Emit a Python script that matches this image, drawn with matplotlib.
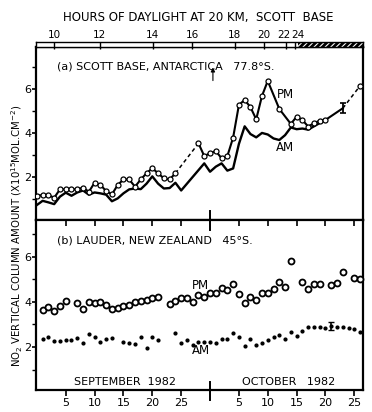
import matplotlib
matplotlib.use("Agg")
import matplotlib.pyplot as plt
from matplotlib.patches import Rectangle
from matplotlib.ticker import FixedLocator
import matplotlib.transforms as mtransforms

plt.rcParams['font.family'] = ['DejaVu Sans']
plt.rcParams['hatch.linewidth'] = 0.8

# ---------------- data (day index: Sep d -> d, Oct d -> 30+d) ----------------
# (a) Scott Base PM (open circles)
pm_a_days1 = list(range(0, 25))
pm_a_vals1 = [1.15, 1.18, 1.18, 1.06, 1.44, 1.44, 1.44, 1.44, 1.52, 1.33, 1.74, 1.65, 1.36,
              1.21, 1.64, 1.89, 1.89, 1.56, 1.89, 2.17, 2.40, 2.17, 1.94, 1.89, 2.17]
pm_a_days2 = [28, 29, 30, 31, 32, 33, 34, 35, 36, 37, 38, 39, 40, 42, 44, 45, 46, 47, 48, 49, 50]
pm_a_vals2 = [3.53, 2.95, 3.08, 3.18, 2.85, 2.95, 3.79, 5.27, 5.50, 5.17, 4.62, 5.68, 6.36,
              5.09, 4.41, 4.74, 4.59, 4.29, 4.44, 4.56, 4.59]
err_a_day = 53
err_a_val = 5.12
err_a_size = 0.23
pm_a_last_day = 56
pm_a_last_val = 6.14

# (a) Scott Base AM (line)
am_a_days = [0, 1, 2, 3, 4, 5, 6, 7, 8, 9, 10, 11, 12, 13, 14, 15, 16, 17, 18, 19, 20, 21, 22,
             23, 24, 25, 29, 30, 31, 32, 33, 34, 35, 36, 37, 38, 39, 40, 41, 42, 43, 44, 45,
             46, 47, 48, 49, 50]
am_a_vals = [0.73, 0.92, 0.85, 0.77, 1.11, 1.29, 1.15, 1.30, 1.39, 1.20, 1.30, 1.26, 1.20,
             0.90, 1.03, 1.26, 1.44, 1.48, 1.45, 1.70, 2.03, 1.70, 1.48, 1.50, 1.74, 1.39,
             2.62, 2.24, 2.47, 2.62, 2.29, 2.39, 3.50, 4.30, 3.95, 3.80, 4.00, 3.93, 3.75,
             3.68, 3.90, 4.25, 4.17, 4.20, 4.15, 4.30, 4.45, 4.59]

# (b) Lauder PM (open circles)
pm_b_days = [1, 2, 3, 4, 5, 7, 8, 9, 10, 11, 12, 13, 14, 15, 16, 17, 18, 19, 20, 21, 23, 24,
             25, 26, 27, 28, 29, 30, 31, 32, 33, 34, 35, 36, 37, 38, 39, 40, 41, 42, 43, 44,
             46, 47, 48, 49, 51, 52, 53, 55, 56]
pm_b_vals = [3.64, 3.79, 3.60, 3.84, 4.04, 3.94, 3.69, 3.99, 3.97, 4.01, 3.87, 3.69, 3.72,
             3.84, 3.87, 4.01, 4.04, 4.09, 4.16, 4.21, 3.91, 4.04, 4.18, 4.16, 4.01, 4.31,
             4.21, 4.39, 4.39, 4.64, 4.53, 4.79, 4.34, 3.97, 4.21, 4.09, 4.41, 4.41, 4.58,
             4.89, 4.68, 5.82, 4.90, 4.57, 4.80, 4.80, 4.76, 4.83, 5.32, 5.05, 5.01]

# (b) Lauder AM (dots)
am_b_days = [1, 2, 3, 4, 5, 6, 7, 8, 9, 10, 11, 12, 13, 15, 16, 17, 18, 19, 20, 21, 24, 25,
             26, 27, 28, 29, 30, 31, 32, 33, 34, 35, 36, 37, 38, 39, 40, 41, 42, 43, 44, 45,
             46, 47, 48, 49, 50, 51, 52, 53, 54, 55, 56]
am_b_vals = [2.34, 2.46, 2.28, 2.27, 2.31, 2.31, 2.41, 2.19, 2.58, 2.46, 2.21, 2.34, 2.39,
             2.21, 2.19, 2.12, 2.43, 1.94, 2.43, 2.31, 2.61, 2.19, 2.31, 2.09, 2.24, 2.21,
             2.21, 2.19, 2.34, 2.34, 2.61, 2.43, 2.06, 2.36, 2.09, 2.16, 2.31, 2.46, 2.53,
             2.36, 2.68, 2.50, 2.72, 2.87, 2.87, 2.87, 2.86, 2.93, 2.90, 2.90, 2.83, 2.79,
             2.68]
err_b_day = 51
err_b_val = 2.93
err_b_size = 0.17

# top scale: hours of daylight at 20 km
hour_labels = ['10', '12', '14', '16', '18', '20', '22', '24']
hour_days = [3.0, 10.9, 20.1, 26.9, 34.3, 39.4, 43.2, 44.8]
polar_day_start = 45.2

# bottom axis
xtick_days = [5, 10, 15, 20, 25, 35, 40, 45, 50, 55]
xtick_labels = ['5', '10', '15', '20', '25', '5', '10', '15', '20', '25']
month_break = 30

XLIM = (-0.15, 56.5)

# ---------------- figure ----------------
W, H = 372, 412
fig = plt.figure(figsize=(W / 100, H / 100), dpi=100)
L, R = 36, 363
def rect(top, bottom):
    return [L / W, 1 - bottom / H, (R - L) / W, (bottom - top) / H]

axa = fig.add_axes(rect(47, 220))
axb = fig.add_axes(rect(220, 390))
axh = fig.add_axes(rect(42, 47))

FS = 8
for ax in (axa, axb):
    ax.set_xlim(*XLIM)
    for s in ax.spines.values():
        s.set_linewidth(1.6)
    ax.yaxis.set_major_locator(FixedLocator([2, 4, 6]))
    ax.yaxis.set_minor_locator(FixedLocator([1, 3, 5, 7]))
    ax.tick_params(axis='y', which='major', direction='out', length=3, width=1.2,
                   labelsize=FS, pad=0.5)
    ax.tick_params(axis='y', which='minor', direction='out', length=3, width=1.0)

axa.set_ylim(0.05, 7.9)
axb.set_ylim(0.09, 7.64)

# panel a x ticks: none
axa.set_xticks([])
# panel b ticks
axb.set_xticks(xtick_days)
axb.set_xticklabels(xtick_labels)
axb.tick_params(axis='x', which='major', direction='out', length=4, width=1.2,
                labelsize=FS, pad=2, top=True, labeltop=False)
for t in axb.xaxis.get_major_ticks():
    t.tick2line.set_marker(3)  # tick pointing down from top
    t.tick2line.set_markersize(4)

# month divider marks
axb.plot([month_break, month_break], [-0.35, 0.45], color='black', lw=1.4, clip_on=False)
axb.plot([month_break, month_break], [7.2, 7.64], color='black', lw=1.4, clip_on=False)
axa.plot([month_break, month_break], [0.05, 0.45], color='black', lw=1.4, clip_on=False)
axa.annotate('', xy=(month_break + 0.5, 7.1), xytext=(month_break + 0.5, 6.25),
             arrowprops=dict(arrowstyle='-|>', lw=0.8, color='black', mutation_scale=6))

# ---------------- panel (a) ----------------
lw = 1.5
MS_A = 3.6
axa.plot(pm_a_days1, pm_a_vals1, color='black', lw=lw, marker='o', ms=MS_A,
         mfc='white', mec='black', mew=0.9, zorder=3)
axa.plot([pm_a_days1[-1], pm_a_days2[0]], [pm_a_vals1[-1], pm_a_vals2[0]],
         color='black', lw=1.1, ls=(0, (2.5, 2)), zorder=2)
axa.plot(pm_a_days2 + [err_a_day], pm_a_vals2 + [err_a_val], color='black', lw=lw, zorder=2)
axa.plot(pm_a_days2, pm_a_vals2, ls='none', marker='o', ms=MS_A,
         mfc='white', mec='black', mew=0.9, zorder=3)
axa.plot([err_a_day, pm_a_last_day], [err_a_val, pm_a_last_val], color='black', lw=1.1,
         ls=(0, (2.5, 2)), zorder=2)
axa.plot([pm_a_last_day], [pm_a_last_val], ls='none', marker='o', ms=MS_A,
         mfc='white', mec='black', mew=0.9, zorder=3, clip_on=False)
axa.errorbar([err_a_day], [err_a_val], yerr=[err_a_size], fmt='none', ecolor='black',
             elinewidth=1.3, capsize=2.5, capthick=1.2, zorder=4)
axa.plot(am_a_days, am_a_vals, color='black', lw=1.7, zorder=2)

axa.text(3.5, 7.0, '(a) SCOTT BASE, ANTARCTICA   77.8°S.', fontsize=FS, va='center')
axa.text(43.0, 5.73, 'PM', fontsize=FS + 0.5, ha='center', va='center')
axa.text(43.0, 3.36, 'AM', fontsize=FS + 0.5, ha='center', va='center')

# ---------------- panel (b) ----------------
axb.plot(pm_b_days, pm_b_vals, ls='none', marker='o', ms=4.3, mfc='white', mec='black',
         mew=1.3, zorder=3, clip_on=False)
axb.plot(am_b_days, am_b_vals, ls='none', marker='o', ms=2.0, mfc='black', mec='black',
         zorder=3, clip_on=False)
axb.errorbar([err_b_day], [err_b_val], yerr=[err_b_size], fmt='none', ecolor='black',
             elinewidth=1.2, capsize=2.2, capthick=1.0, zorder=4)
axb.text(3.5, 6.75, '(b) LAUDER, NEW ZEALAND   45°S.', fontsize=FS, va='center')
axb.text(28.4, 4.71, 'PM', fontsize=FS + 0.5, ha='center', va='center')
axb.text(28.5, 1.84, 'AM', fontsize=FS + 0.5, ha='center', va='center')
axb.text(15.2, 0.45, 'SEPTEMBER  1982', fontsize=FS, ha='center', va='center')
axb.text(43.7, 0.45, 'OCTOBER   1982', fontsize=FS, ha='center', va='center')

# ---------------- top daylight strip ----------------
axh.set_xlim(*XLIM)
axh.set_ylim(0, 1)
axh.set_yticks([])
for s in axh.spines.values():
    s.set_linewidth(1.0)
axh.add_patch(Rectangle((polar_day_start, 0), XLIM[1] - polar_day_start, 1,
                        facecolor='black', edgecolor='white', hatch='//////', lw=0))
axh.set_xticks(hour_days)
axh.tick_params(axis='x', which='major', direction='in', length=5, width=1.0,
                bottom=False, labelbottom=False, top=True, labeltop=False)
# hour labels (last two nudged apart, as in the original lettering)
nudges = [0, 0, 0, 0, 0, 0, -2.0, 2.5]
for d, lab, dx in zip(hour_days, hour_labels, nudges):
    tr = mtransforms.offset_copy(axh.transData, fig=fig, x=dx, y=2.5, units='dots')
    axh.text(d, 1.0, lab, transform=tr, fontsize=7.5, ha='center', va='bottom')
fig.text(198 / W, 1 - 17 / H, 'HOURS OF DAYLIGHT AT 20 KM,  SCOTT  BASE',
         fontsize=FS + 0.5, ha='center', va='center')

# y label
fig.text(17 / W, 1 - 236 / H, 'NO$_2$ VERTICAL COLUMN AMOUNT (X10$^{15}$MOL.CM$^{-2}$)',
         rotation=90, fontsize=7.3, ha='center', va='center')

fig.savefig('out.png', dpi=100)
